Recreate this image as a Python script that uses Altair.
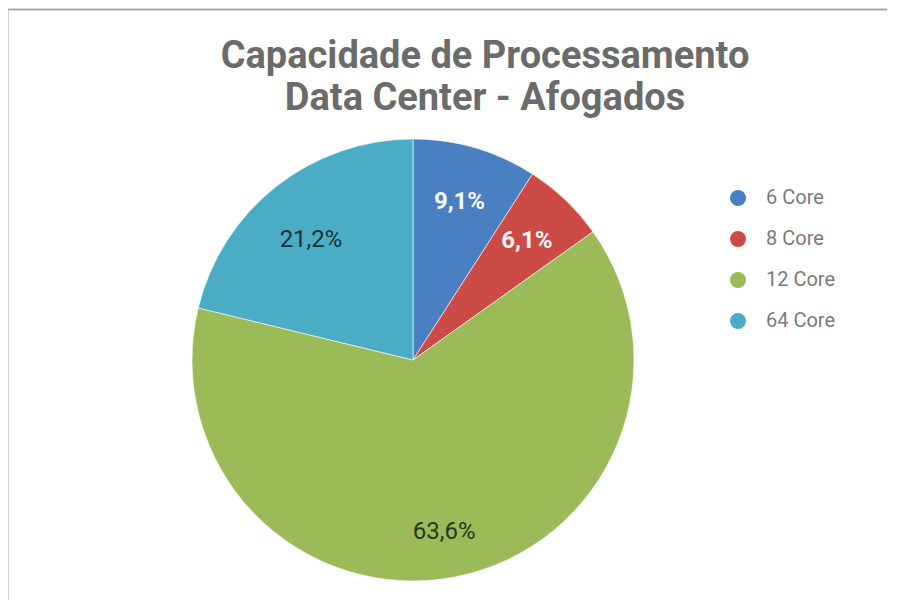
import altair as alt
import pandas as pd

categorias = ["6 Core", "8 Core", "12 Core", "64 Core"]
quantidades = [3, 2, 21, 7]
rotulos = ["9,1%", "6,1%", "63,6%", "21,2%"]
ordem = [0, 1, 2, 3]
cores = ["#4a7fc1", "#cd4b47", "#9bbb59", "#4bacc6"]

df = pd.DataFrame({
    "categoria": categorias,
    "quantidade": quantidades,
    "rotulo": rotulos,
    "ordem": ordem,
})

theta = alt.Theta("quantidade:Q", stack=True)
order = alt.Order("ordem:Q")
color = alt.Color(
    "categoria:N",
    sort=categorias,
    scale=alt.Scale(domain=categorias, range=cores),
    legend=alt.Legend(
        title=None, orient="none", legendX=717, legendY=48,
        symbolType="circle", symbolSize=254, symbolStrokeWidth=0,
        labelFontSize=20, labelColor="#7a7a7a", labelFont="Roboto",
        labelOffset=18, rowPadding=21, padding=0,
    ),
)

base = alt.Chart(df)
pie = base.mark_arc(outerRadius=221, stroke="white", strokeWidth=0.6).encode(
    theta=theta, order=order, color=color
)
lab_small = base.mark_text(radius=165, fontSize=24, fontWeight="bold", font="Roboto",
                           color="white").encode(
    theta=theta, order=order, text="rotulo:N",
    opacity=alt.condition(alt.datum.quantidade < 5, alt.value(0.95), alt.value(0)),
)
lab_big = base.mark_text(radius=165, dy=10, fontSize=24, font="Roboto", color="black").encode(
    theta=theta, order=order, text="rotulo:N",
    opacity=alt.condition(alt.datum.quantidade >= 5, alt.value(0.72), alt.value(0)),
)

one = pd.DataFrame({"a": [0]})
frame_top = alt.Chart(one).mark_rule(color="#a8a8a8", strokeWidth=2).encode(
    x=alt.value(-4), x2=alt.value(900), y=alt.value(-130.5)
)
frame_left = alt.Chart(one).mark_rule(color="#a8a8a8", strokeWidth=2).encode(
    x=alt.value(-3.5), y=alt.value(-131), y2=alt.value(520)
)

chart = alt.layer(pie, lab_small, lab_big, frame_top, frame_left).properties(
    width=804, height=440,
    padding={"left": 3, "top": 132, "right": 72, "bottom": 20},
    autosize=alt.AutoSizeParams(type="none"),
    title=alt.TitleParams(
        ["Capacidade de Processamento", "Data Center - Afogados"],
        fontSize=38, font="Roboto", fontWeight="bold", color="#6b6b6b",
        lineHeight=42, anchor="middle", frame="group", dx=72, offset=-110,
    ),
).configure_view(stroke=None)

chart.save("out.html", embed_options={"renderer": "svg", "actions": False})
